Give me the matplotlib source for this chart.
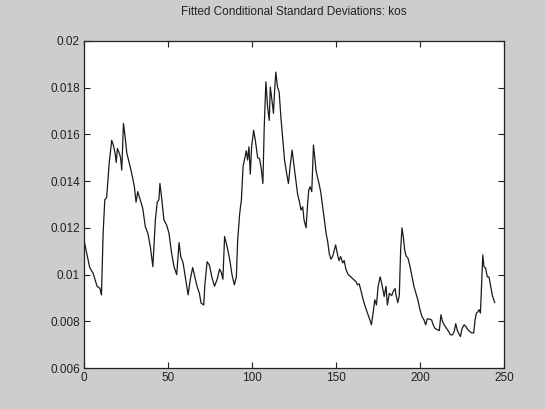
import matplotlib
matplotlib.use("Agg")
import matplotlib.pyplot as plt

day = [0, 3.4, 5.4, 7.8, 9.4, 10.4, 11.4, 12.4, 13.5, 15,
       16.5, 17.5, 18.5, 19.2, 19.9, 21, 21.8, 22.5, 23.5, 24.5,
       25.5, 27.5, 28.8, 30, 31, 32, 33.5, 35, 36.5, 38,
       39.5, 41, 42.5, 43.6, 44.6, 45.2, 46.2, 47.6, 49.2, 50.6,
       52.2, 53.6, 55.2, 56.6, 57.6, 59, 60.6, 62, 63.3, 64.7,
       65.7, 67.3, 68.7, 69.7, 71.3, 72, 73.3, 74.7, 76.1, 77.7,
       79.3, 80.7, 81.7, 82.7, 83.7, 85.2, 86.8, 88.1, 89.5, 90.7,
       91.5, 92.7, 93.7, 94.7, 95.5, 96.6, 97.4, 98.2, 99, 99.8,
       101, 102, 103.4, 104.5, 105.5, 106.5, 107.3, 108.3, 109.3, 110.3,
       110.9, 111.9, 112.8, 113.6, 114.2, 115.2, 116.2, 117.2, 118.4, 119.4,
       120.8, 121.7, 122.7, 123.9, 125.1, 126.3, 127.1, 128.3, 129.2, 130.2,
       131, 132.2, 133, 133.8, 134.6, 135.6, 136.6, 137.4, 138.1, 138.9,
       139.9, 140.9, 142.1, 143.1, 144.1, 145.1, 146, 147, 148, 149,
       149.8, 150.8, 151.8, 152.8, 154, 154.9, 155.9, 157.3, 158.9, 160.3,
       161.9, 162.8, 163.8, 164.8, 166.2, 167.4, 168.8, 170.2, 171.1, 172.1,
       173.1, 174.1, 175.1, 176.3, 177.3, 178.7, 179.8, 180.6, 181.8, 183.2,
       184.2, 185.2, 185.8, 186.8, 187.7, 188.5, 189.3, 190.1, 190.9, 191.7,
       192.9, 194.1, 195.3, 196.4, 197.6, 198.8, 200, 201.2, 202.4, 203.4,
       204.3, 205.5, 206.9, 207.9, 208.9, 210.3, 211.5, 212.5, 213.4, 214.4,
       215.8, 217, 218.2, 219.4, 220.4, 221.3, 222.1, 222.9, 224.1, 225.1,
       226.3, 227.3, 228.5, 229.6, 230.8, 232, 232.8, 233.6, 234.4, 235.2,
       236, 236.8, 237.4, 238.1, 239.1, 240.1, 241.1, 242.1, 243.1, 244.5]

sigma = [.01148, .0103, .01006, .0095, .00942, .00913, .01177, .0132, .0133, .01476,
         .01575, .01554, .0152, .0148, .0154, .0152, .0150, .01447, .01647, .0159,
         .0152, .01462, .0142, .01376, .0131, .01355, .0132, .01283, .01205, .01177,
         .0112, .01034, .01234, .0131, .0132, .0139, .0133, .01234, .01212, .01177,
         .0109, .01034, .0100, .01137, .01077, .0105, .00977, .00913, .0098, .0103,
         .0100, .0095, .0092, .00878, .0087, .0096, .01055, .0104, .0099, .0095,
         .0098, .01023, .0101, .0098, .01163, .0112, .01063, .0100, .00956, .0099,
         .01148, .01262, .0132, .01462, .0149, .0153, .0149, .01547, .0143, .01547,
         .01618, .01575, .0150, .01497, .01455, .0139, .01632, .01825, .01718, .0166,
         .01803, .01746, .0169, .01803, .01867, .01803, .0178, .01675, .01575, .0149,
         .01426, .0139, .01462, .01533, .01462, .0139, .01347, .0131, .01276, .0129,
         .01234, .0120, .0129, .01362, .01376, .01355, .01554, .0150, .01447, .0142,
         .0139, .01355, .0129, .01234, .01177, .0114, .0109, .01066, .01077, .01105,
         .01127, .0109, .0106, .01077, .0105, .0106, .01023, .0100, .0099, .0098,
         .0097, .00956, .0096, .00934, .00892, .00863, .00835, .00806, .00785, .00835,
         .00892, .0087, .0095, .0099, .0096, .00906, .0095, .0087, .0092, .0091,
         .0093, .0094, .0091, .0088, .0091, .01105, .0120, .01162, .01105, .0108,
         .0107, .01034, .0099, .0095, .0092, .0089, .0085, .0082, .00806, .00785,
         .0081, .0081, .00806, .00785, .0077, .00764, .0076, .00828, .0080, .00785,
         .0077, .00757, .00742, .00742, .00757, .0079, .00764, .0075, .00735, .0077,
         .00785, .00778, .00764, .00757, .0075, .0075, .00806, .00835, .0084, .0085,
         .00835, .0098, .01084, .01034, .01027, .0099, .0099, .0095, .0091, .0088]

xticks = [0, 50, 100, 150, 200, 250]
yticks = [0.006, 0.008, 0.01, 0.012, 0.014, 0.016, 0.018, 0.02]
ytick_labels = ["0.006", "0.008", "0.01", "0.012", "0.014", "0.016", "0.018", "0.02"]

plt.rcParams["font.family"] = ["Liberation Sans", "DejaVu Sans"]

fig = plt.figure(figsize=(5.46, 4.09), dpi=100, facecolor="#cdcdcd")
ax = fig.add_axes([0.1538, 0.1002, 0.7692, 0.7996])
ax.set_facecolor("white")

ax.plot(day, sigma, color="#1a1a1a", linewidth=0.9)

ax.set_xlim(0, 250)
ax.set_ylim(0.006, 0.02)
ax.set_xticks(xticks)
ax.set_yticks(yticks)
ax.set_yticklabels(ytick_labels)
ax.tick_params(direction="in", top=True, right=True, length=4, width=0.8,
               labelsize=8.5, colors="#222222", pad=3)
for s in ax.spines.values():
    s.set_color("#222222")
    s.set_linewidth(0.9)

ax.set_title("Fitted Conditional Standard Deviations: kos", fontsize=8.5, color="#222222", pad=19)

plt.savefig("out.png", dpi=100, facecolor=fig.get_facecolor())
